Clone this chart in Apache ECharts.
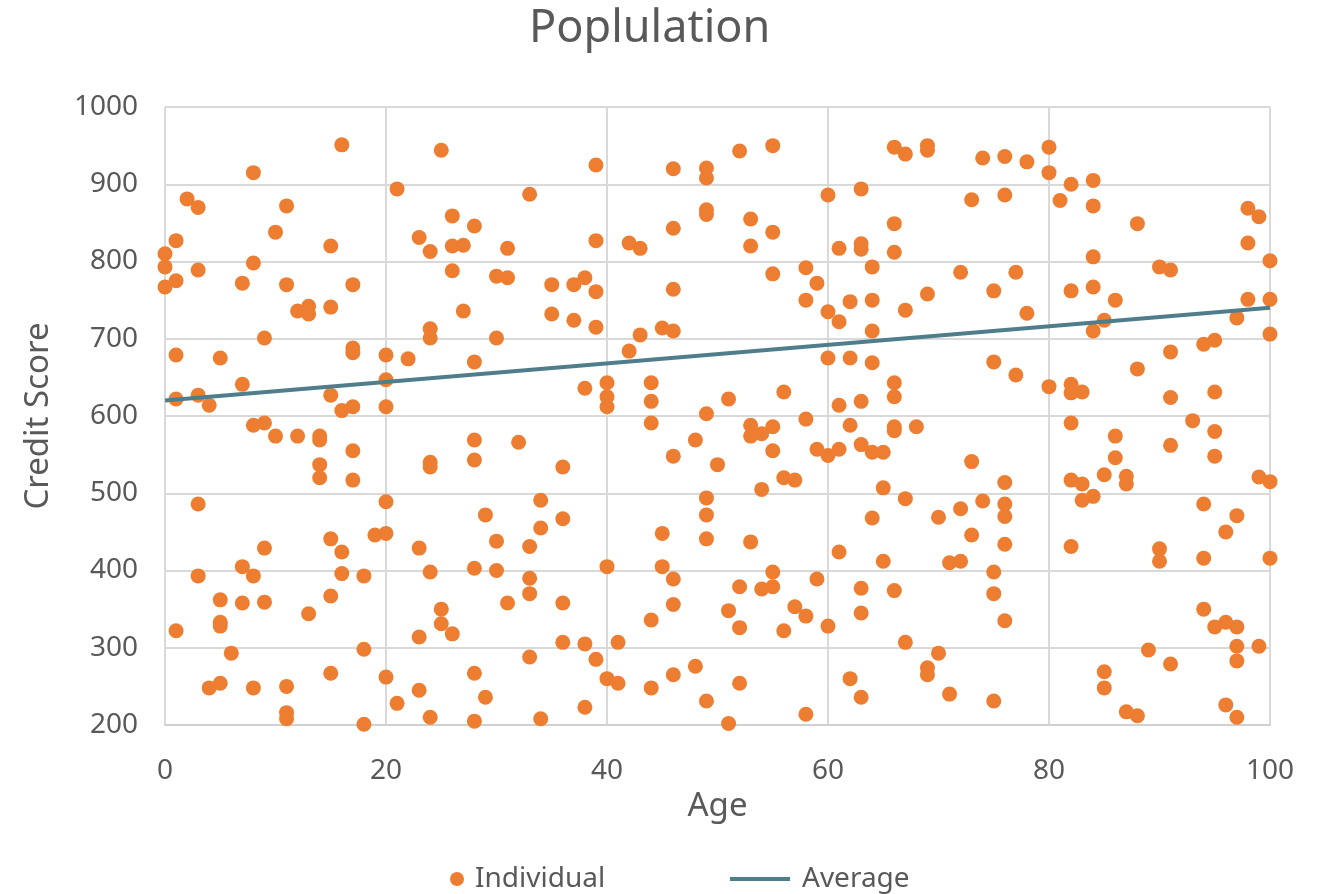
<!DOCTYPE html>
<html>
<head>
<meta charset="utf-8">
<script src="https://cdn.jsdelivr.net/npm/echarts@6/dist/echarts.min.js"></script>
<style>
html,body{margin:0;padding:0;background:#fff;}
#chart{width:1322px;height:894px;}
</style>
</head>
<body>
<div id="chart"></div>
<script>
// Individual points: age and credit score (parallel arrays)
const ages = [
0,0,0,
1,1,1,1,1,
2,
3,3,3,3,3,
4,4,
5,5,5,5,5,
6,
7,7,7,7,
8,8,8,8,8,
9,9,9,9,
10,10,
11,11,11,11,11,
12,12,
13,13,13,
14,14,14,14,
15,15,15,15,15,15,
16,16,16,16,
17,17,17,17,17,17,
18,18,18,
19,
20,20,20,20,20,20,
21,21,
22,
23,23,23,23,
24,24,24,24,24,24,24,
25,25,25,
26,26,26,26,
27,27,
28,28,28,28,28,28,28,
29,29,
30,30,30,30,
31,31,31,
32,
33,33,33,33,33,
34,34,34,
35,35,
36,36,36,36,
37,37,
38,38,38,38,
39,39,39,39,39,
40,40,40,40,40,
41,41,
42,42,
43,43,
44,44,44,44,44,
45,45,45,
46,46,46,46,46,46,46,46,
48,48,
49,49,49,49,49,49,49,49,49,
50,
51,51,51,
52,52,52,52,
53,53,53,53,53,
54,54,54,
55,55,55,55,55,55,55,
56,56,56,
57,57,
58,58,58,58,58,
59,59,59,
60,60,60,60,60,
61,61,61,61,61,
62,62,62,62,
63,63,63,63,63,63,63,63,
64,64,64,64,64,64,
65,65,65,
66,66,66,66,66,66,66,66,
67,67,67,67,
68,
69,69,69,69,69,
70,70,
71,71,
72,72,72,
73,73,73,
74,74,
75,75,75,75,75,
76,76,76,76,76,76,76,
77,77,
78,78,
80,80,80,
81,
82,82,82,82,82,82,82,
83,83,83,
84,84,84,84,84,84,
85,85,85,85,
86,86,86,
87,87,87,
88,88,88,
89,
90,90,90,
91,91,91,91,91,
93,
94,94,94,94,
95,95,95,95,95,
96,96,96,
97,97,97,97,97,97,
98,98,98,
99,99,99,
100,100,100,100,100
];
const scores = [
810,793,767,
827,775,679,622,322,
881,
870,789,627,486,393,
614,248,
675,362,333,328,254,
293,
772,641,405,358,
915,798,588,393,248,
701,591,429,359,
838,574,
872,770,250,216,208,
736,574,
742,732,344,
574,569,537,520,
820,741,627,441,367,267,
951,607,424,396,
770,688,682,612,555,517,
393,298,201,
446,
679,647,612,489,448,262,
894,228,
674,
831,429,314,245,
813,713,701,540,534,398,210,
944,350,331,
859,820,788,318,
821,736,
846,670,569,543,403,267,205,
472,236,
781,701,438,400,
817,779,358,
566,
887,431,390,370,288,
491,455,208,
770,732,
534,467,358,307,
770,724,
779,636,305,223,
925,827,761,715,285,
643,625,612,405,260,
307,254,
824,684,
817,705,
643,619,591,336,248,
714,448,405,
920,843,764,710,548,389,356,265,
569,276,
921,908,867,861,603,494,472,441,231,
537,
622,348,202,
943,379,326,254,
855,820,588,574,437,
577,505,376,
950,838,784,586,555,398,379,
631,520,322,
517,353,
792,750,596,341,214,
772,557,389,
886,735,675,549,328,
817,722,614,557,424,
748,675,588,260,
894,823,816,619,563,377,345,236,
793,750,710,669,553,468,
553,507,412,
948,849,812,643,625,586,581,374,
939,737,493,307,
586,
950,944,758,274,265,
469,293,
410,240,
786,480,412,
880,541,446,
934,490,
762,670,398,370,231,
936,886,514,486,470,434,335,
786,653,
929,733,
948,915,638,
879,
900,762,641,630,591,517,431,
631,512,491,
905,872,806,767,710,496,
724,524,269,248,
750,574,546,
522,512,217,
849,661,212,
297,
793,428,412,
789,683,624,562,279,
594,
693,486,416,350,
698,631,580,548,327,
450,333,226,
727,471,327,302,283,210,
869,824,751,
858,521,302,
801,751,706,515,416
];
// Average (trend) line endpoints
const averageAges = [0, 100];
const averageScores = [620, 740];

const individualData = ages.map((a, i) => [a, scores[i]]);
const averageData = averageAges.map((a, i) => [a, averageScores[i]]);

const txt = '#595959';
const font = 'Noto Sans';
const chart = echarts.init(document.getElementById('chart'));
chart.setOption({
  backgroundColor: '#fff',
  animation: false,
  title: {
    text: 'Poplulation',
    left: 524,
    top: 2,
    textStyle: { color: txt, fontSize: 45, fontWeight: 'normal', fontFamily: font }
  },
  legend: [
    {
      data: [{ name: 'Individual', icon: 'circle' }],
      left: 445, top: 860,
      itemWidth: 26, itemHeight: 14,
      textStyle: { color: txt, fontSize: 28, fontFamily: font }
    },
    {
      data: [{ name: 'Average', icon: 'rect' }],
      left: 725, top: 860,
      itemWidth: 60, itemHeight: 4,
      textStyle: { color: txt, fontSize: 28, fontFamily: font, padding: [0, 0, 0, 7] }
    }
  ],
  grid: { left: 165, right: 52, top: 107, bottom: 169, containLabel: false },
  xAxis: {
    type: 'value', min: 0, max: 100, interval: 20,
    name: 'Age', nameLocation: 'middle', nameGap: 64,
    nameTextStyle: { color: txt, fontSize: 33, fontFamily: font },
    axisLine: { show: true, lineStyle: { color: '#d0d0d0', width: 2 } },
    axisTick: { show: false },
    axisLabel: { color: txt, fontSize: 28, fontFamily: font, margin: 32 },
    splitLine: { show: true, lineStyle: { color: '#d9d9d9', width: 2 } }
  },
  yAxis: {
    type: 'value', min: 200, max: 1000, interval: 100,
    name: 'Credit Score', nameLocation: 'middle', nameGap: 110, nameRotate: 90,
    nameTextStyle: { color: txt, fontSize: 33, fontFamily: font },
    axisLine: { show: false },
    axisTick: { show: false },
    axisLabel: { color: txt, fontSize: 28, fontFamily: font, margin: 27, formatter: v => String(v) },
    splitLine: { show: true, lineStyle: { color: '#d9d9d9', width: 2 } }
  },
  series: [
    {
      name: 'Individual', type: 'scatter', data: individualData,
      symbol: 'circle', symbolSize: 15,
      itemStyle: { color: '#ED7D31', opacity: 1 },
      z: 2
    },
    {
      name: 'Average', type: 'line', data: averageData,
      symbol: 'none', showSymbol: false,
      lineStyle: { color: '#507d8c', width: 4 },
      itemStyle: { color: '#507d8c' },
      z: 3
    }
  ]
});
</script>
</body>
</html>
